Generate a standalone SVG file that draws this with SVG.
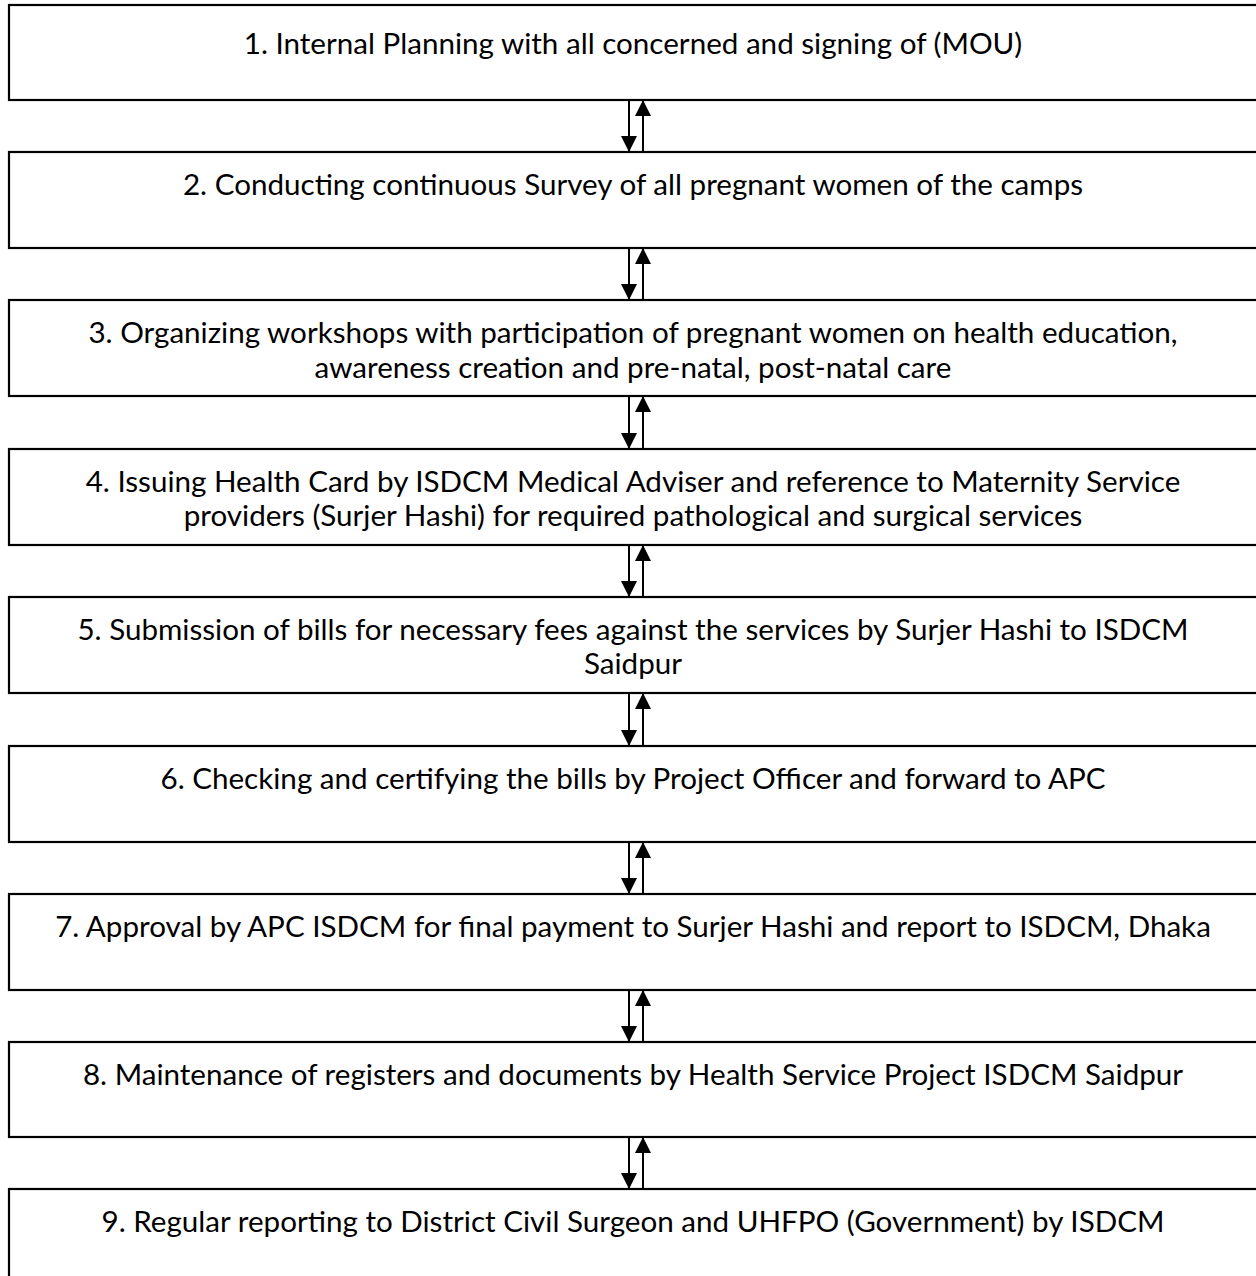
<svg xmlns="http://www.w3.org/2000/svg" width="1256" height="1276" viewBox="0 0 1256 1276">
<defs>
<style>
.box{fill:#fff;stroke:#000;stroke-width:2.2}
.t{font-family:Lato,"Open Sans","Liberation Sans",sans-serif;font-size:29.6px;fill:#000;text-anchor:middle}
.c{stroke:#000;stroke-width:2;fill:none}
</style>
<marker id="ah" markerUnits="userSpaceOnUse" markerWidth="17" markerHeight="16" refX="16" refY="8" orient="auto" viewBox="0 0 17 16">
<path d="M0,0 L16,8 L0,16 Z" fill="#000"/>
</marker>
</defs>
<rect width="1256" height="1276" fill="#fff"/>
<g id="n1"><rect class="box" x="9" y="5" width="1255" height="95"/><text class="t" x="633" y="54">1. Internal Planning with all concerned and signing of (MOU)</text></g>
<g id="n2"><rect class="box" x="9" y="152" width="1255" height="96"/><text class="t" x="633" y="195">2. Conducting continuous Survey of all pregnant women of the camps</text></g>
<g id="n3"><rect class="box" x="9" y="300" width="1255" height="96"/><text class="t" x="633" y="343">3. Organizing workshops with participation of pregnant women on health education,</text><text class="t" x="633" y="378">awareness creation and pre-natal, post-natal care</text></g>
<g id="n4"><rect class="box" x="9" y="449" width="1255" height="96"/><text class="t" x="633" y="492">4. Issuing Health Card by ISDCM Medical Adviser and reference to Maternity Service</text><text class="t" x="633" y="526">providers (Surjer Hashi) for required pathological and surgical services</text></g>
<g id="n5"><rect class="box" x="9" y="597" width="1255" height="96"/><text class="t" x="633" y="640">5. Submission of bills for necessary fees against the services by Surjer Hashi to ISDCM</text><text class="t" x="633" y="674">Saidpur</text></g>
<g id="n6"><rect class="box" x="9" y="746" width="1255" height="96"/><text class="t" x="633" y="789">6. Checking and certifying the bills by Project Officer and forward to APC</text></g>
<g id="n7"><rect class="box" x="9" y="894" width="1255" height="96"/><text class="t" x="633" y="937">7. Approval by APC ISDCM for final payment to Surjer Hashi and report to ISDCM, Dhaka</text></g>
<g id="n8"><rect class="box" x="9" y="1042" width="1255" height="95"/><text class="t" x="633" y="1085">8. Maintenance of registers and documents by Health Service Project ISDCM Saidpur</text></g>
<g id="n9"><rect class="box" x="9" y="1189" width="1255" height="100"/><text class="t" x="633" y="1232">9. Regular reporting to District Civil Surgeon and UHFPO (Government) by ISDCM</text></g>
<g id="connectors">
<path class="c" d="M629,100 V152" marker-end="url(#ah)"/><path class="c" d="M643,152 V100" marker-end="url(#ah)"/>
<path class="c" d="M629,248 V300" marker-end="url(#ah)"/><path class="c" d="M643,300 V248" marker-end="url(#ah)"/>
<path class="c" d="M629,396 V449" marker-end="url(#ah)"/><path class="c" d="M643,449 V396" marker-end="url(#ah)"/>
<path class="c" d="M629,545 V597" marker-end="url(#ah)"/><path class="c" d="M643,597 V545" marker-end="url(#ah)"/>
<path class="c" d="M629,693 V746" marker-end="url(#ah)"/><path class="c" d="M643,746 V693" marker-end="url(#ah)"/>
<path class="c" d="M629,842 V894" marker-end="url(#ah)"/><path class="c" d="M643,894 V842" marker-end="url(#ah)"/>
<path class="c" d="M629,990 V1042" marker-end="url(#ah)"/><path class="c" d="M643,1042 V990" marker-end="url(#ah)"/>
<path class="c" d="M629,1137 V1189" marker-end="url(#ah)"/><path class="c" d="M643,1189 V1137" marker-end="url(#ah)"/>
</g>
</svg>
